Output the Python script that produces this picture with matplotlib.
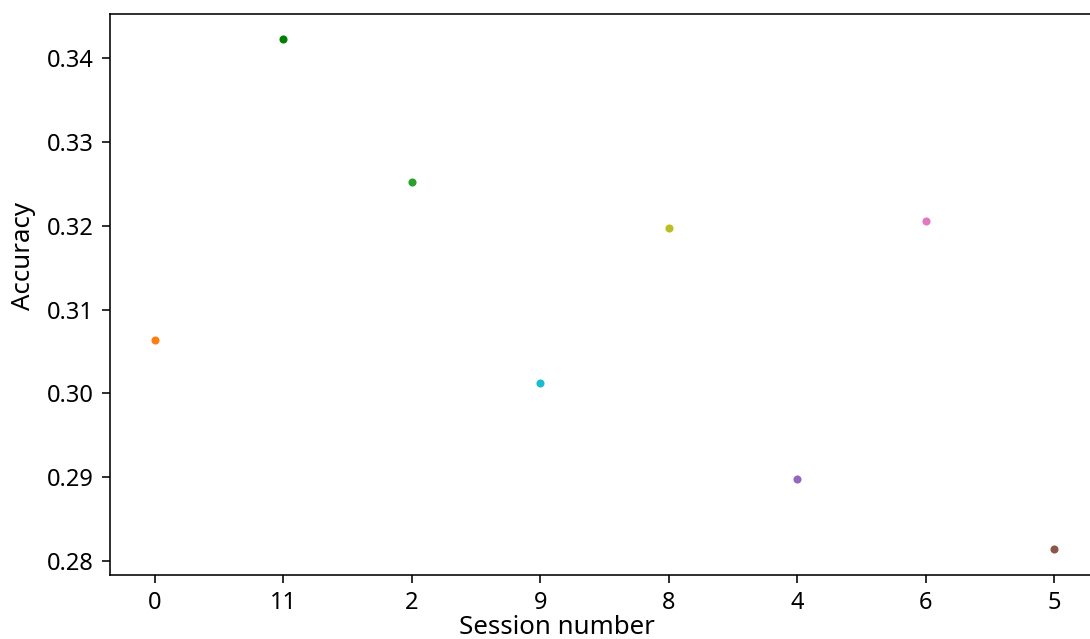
import matplotlib
matplotlib.use("Agg")
import matplotlib.pyplot as plt

plt.rcParams['font.family'] = ['Noto Sans', 'DejaVu Sans']

sessions = ["0", "11", "2", "9", "8", "4", "6", "5"]
accuracy = [0.3064, 0.3423, 0.3252, 0.3013, 0.3197, 0.2898, 0.3206, 0.2815]
colors = ["tab:orange", "green", "tab:green", "tab:cyan", "tab:olive",
          "tab:purple", "tab:pink", "tab:brown"]

fig = plt.figure(figsize=(10.90, 6.39), dpi=100)
ax = fig.add_axes([110/1090, 1 - 575/639, 989/1090, 561/639])

for i, (s, a, c) in enumerate(zip(sessions, accuracy, colors)):
    ax.scatter(i, a, color=c, s=34, linewidths=0)

ax.set_xticks(range(len(sessions)))
ax.set_xticklabels(sessions)
ax.set_xlim(-0.35, len(sessions) - 1 + 0.35)
ax.set_ylim(0.27836, 0.34524)
ax.set_yticks([0.28, 0.29, 0.30, 0.31, 0.32, 0.33, 0.34])
ax.set_yticklabels(["0.28", "0.29", "0.30", "0.31", "0.32", "0.33", "0.34"])
for sp in ax.spines.values():
    sp.set_linewidth(1.15)
ax.tick_params(labelsize=17, length=5.5, width=1.15, pad=6)
ax.set_xlabel("Session number", fontsize=18.6)
ax.set_ylabel("Accuracy", fontsize=18.6)
ax.xaxis.set_label_coords(0.452, -0.071)
ax.yaxis.set_label_coords(-0.075, 0.569)

fig.savefig("out.png", dpi=100)
